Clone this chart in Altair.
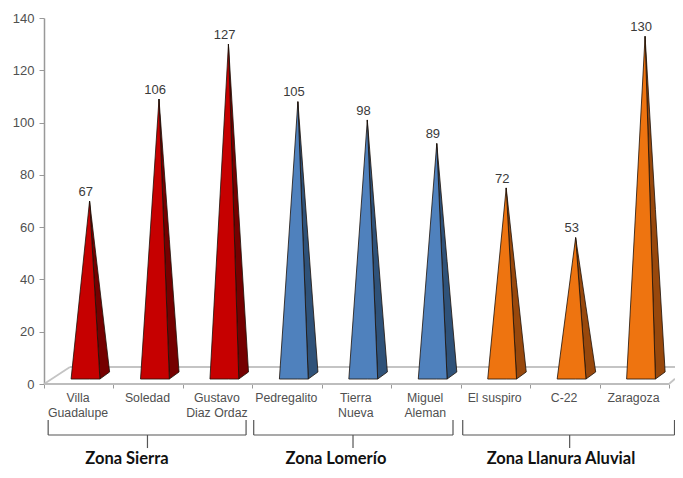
import altair as alt
import pandas as pd

categories = ["Villa\nGuadalupe", "Soledad", "Gustavo\nDiaz Ordaz", "Pedregalito", "Tierra\nNueva",
              "Miguel\nAleman", "El suspiro", "C-22", "Zaragoza"]
values = [67, 106, 127, 105, 98, 89, 72, 53, 130]
front_colors = ["#C60000"] * 3 + ["#4F81BD"] * 3 + ["#EE7410"] * 3
side_colors = ["#750000"] * 3 + ["#2F5279"] * 3 + ["#98480C"] * 3
group_names = ["Zona Sierra", "Zona Lomerío", "Zona Llanura Aluvial"]
group_start = [0.06, 3.02, 6.03]
group_end = [2.91, 5.89, 9.08]
group_stem = [1.49, 4.45, 7.57]
group_label_x = [1.195, 4.205, 7.445]
y_ticks = [0, 20, 40, 60, 80, 100, 120, 140]
x_ticks = list(range(10))

# 3D-look geometry in data units
APEX_X, LEFT_X, RIGHT_X, SIDE_X = 0.656, 0.39, 0.805, 0.945
BASE_Y, SIDE_Y, APEX_LIFT = 1.9, 4.6, 3
DEPTH_X, DEPTH_Y = 0.374, 6.5
X_MAX = 9.087

x_scale = alt.Scale(domain=[0, X_MAX], nice=False, zero=False)
y_scale = alt.Scale(domain=[0, 140], nice=False, zero=False)
X = lambda f: alt.X(f, type="quantitative", scale=x_scale, title=None)
Y = lambda f: alt.Y(f, type="quantitative", scale=y_scale, title=None)

front, side = [], []
for i, v in enumerate(values):
    top = v + APEX_LIFT
    front += [
        dict(c=i, x=i + LEFT_X, y=BASE_Y, y2=BASE_Y, fill=front_colors[i]),
        dict(c=i, x=i + APEX_X, y=top, y2=BASE_Y, fill=front_colors[i]),
        dict(c=i, x=i + RIGHT_X, y=BASE_Y, y2=BASE_Y, fill=front_colors[i]),
    ]
    t = (RIGHT_X - APEX_X) / (SIDE_X - APEX_X)
    side += [
        dict(c=i, x=i + APEX_X, y=top, y2=top, fill=side_colors[i]),
        dict(c=i, x=i + RIGHT_X, y=top + (SIDE_Y - top) * t, y2=BASE_Y, fill=side_colors[i]),
        dict(c=i, x=i + SIDE_X, y=SIDE_Y, y2=SIDE_Y, fill=side_colors[i]),
    ]
front = pd.DataFrame(front)
side = pd.DataFrame(side)


def faces(df):
    return alt.Chart(df).mark_area(orient="vertical", stroke="#1c1008", strokeWidth=0.8, interpolate="linear").encode(
        x=X("x"), y=Y("y"), y2="y2", detail="c:N", color=alt.Color("fill:N", scale=None, legend=None)
    )


floor = pd.DataFrame([
    dict(x=DEPTH_X, x2=X_MAX, y=DEPTH_Y, y2=DEPTH_Y, k="back"),
    dict(x=0, x2=DEPTH_X, y=0, y2=DEPTH_Y, k="left"),
    dict(x=9, x2=X_MAX, y=0, y2=2, k="right"),
])
floor_lines = alt.Chart(floor).mark_rule(color="#C4C4C4", strokeWidth=1.8).encode(
    x=X("x"), x2="x2", y=Y("y"), y2="y2"
)
front_line = alt.Chart(pd.DataFrame({"x": [0], "x2": [9], "y": [0]})).mark_rule(color="#BDBDBD", strokeWidth=1.8).encode(
    x=X("x"), x2="x2", y=Y("y")
)

axes = alt.Chart(pd.DataFrame({"x": [0], "y": [0]})).mark_point(opacity=0).encode(
    x=alt.X("x:Q", scale=x_scale, title=None,
            axis=alt.Axis(values=x_ticks, labels=False, domain=False, ticks=True,
                          tickColor="#999999", tickSize=4, grid=False)),
    y=alt.Y("y:Q", scale=y_scale, title=None,
            axis=alt.Axis(values=y_ticks, domainColor="#999999", domainWidth=1.5,
                          tickColor="#999999", tickSize=5, grid=False, labelPadding=5,
                          labelFontSize=13, labelFont="Liberation Sans", labelColor="#505050")),
)

value_df = pd.DataFrame({"x": [i + 0.6 for i in range(9)], "y": [v + APEX_LIFT + 3.6 for v in values], "t": values})
value_text = alt.Chart(value_df).mark_text(font="Liberation Sans", fontSize=13, color="#3a3a3a").encode(
    x=X("x"), y=Y("y"), text="t:Q"
)

cat_df = pd.DataFrame({"x": [i + 0.49 for i in range(9)], "y": [-3.2] * 9, "t": categories})
cat_text = alt.Chart(cat_df).mark_text(font="Liberation Sans", fontSize=12.3, color="#505050", lineBreak="\n",
                                       baseline="top", lineHeight=14.5).encode(x=X("x"), y=Y("y"), text="t:N")

bracket_rows = []
for a, b, s in zip(group_start, group_end, group_stem):
    bracket_rows += [
        dict(x=a, x2=a, y=-13.8, y2=-19.5),
        dict(x=b, x2=b, y=-13.8, y2=-19.5),
        dict(x=a, x2=b, y=-19.5, y2=-19.5),
        dict(x=s, x2=s, y=-19.5, y2=-24.5),
    ]
brackets = alt.Chart(pd.DataFrame(bracket_rows)).mark_rule(color="#555555", strokeWidth=1.2).encode(
    x=X("x"), x2="x2", y=Y("y"), y2="y2"
)

group_df = pd.DataFrame({"x": group_label_x, "y": [-28.6] * 3, "t": group_names})
group_text = alt.Chart(group_df).mark_text(font="Lato", fontSize=16.5, fontWeight="bold", color="#111111").encode(
    x=X("x"), y=Y("y"), text="t:N"
)

chart = alt.layer(
    axes, floor_lines, front_line, faces(side), faces(front), value_text, cat_text, brackets, group_text
).properties(
    width=631, height=366,
    padding={"left": 36, "top": 10, "right": 0, "bottom": 86},
    autosize=alt.AutoSizeParams(type="none"),
    background="white",
).configure_view(stroke=None)

chart.save("out.html", embed_options={"renderer": "svg", "actions": False})
